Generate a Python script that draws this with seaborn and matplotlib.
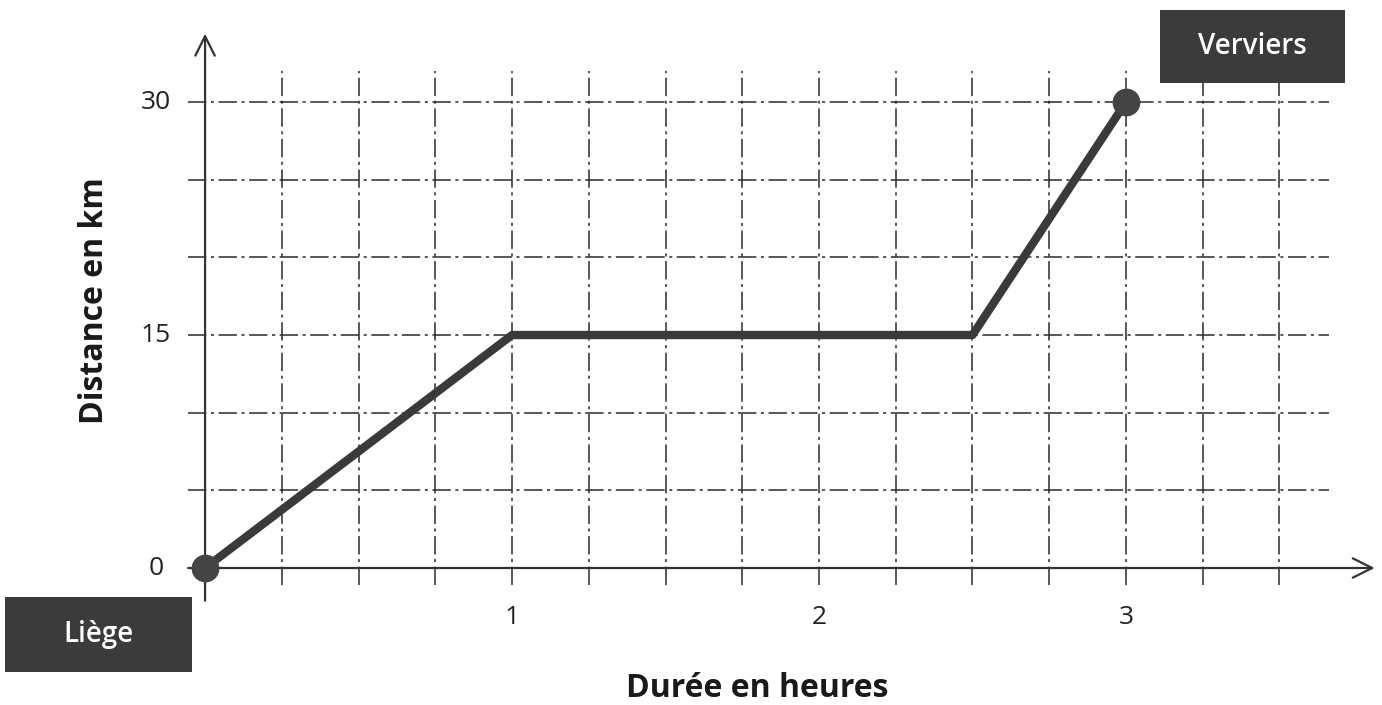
import numpy as np
import matplotlib
matplotlib.use('Agg')
import matplotlib.pyplot as plt
import seaborn as sns
from matplotlib.patches import Rectangle

# Trajet Liège -> Verviers
hours = [0, 1, 2.5, 3]
distance_km = [0, 15, 15, 30]
x_ticks = [1, 2, 3]
y_ticks = [0, 15, 30]
start_label = 'Liège'
end_label = 'Verviers'

sns.set_style('white')
plt.rcParams['font.family'] = ['Open Sans', 'DejaVu Sans']

fig = plt.figure(figsize=(13.82, 7.05), dpi=100)
ax = fig.add_axes([0, 0, 1, 1])
ax.set_xlim(-0.668, 3.834)
ax.set_ylim(-8.82, 36.57)
ax.axis('off')

# dash-dot grid, every quarter hour and every 5 km
grid_style = dict(color='#2a2a2a', lw=1.1, linestyle=(0, (12, 3, 2, 3)), zorder=1)
ax.vlines(np.arange(0.25, 3.75, 0.25), -1.1, 32.0, **grid_style)
ax.hlines(np.arange(5, 31, 5), -0.055, 3.66, **grid_style)

# axes with arrows
arrow = dict(arrowstyle='->', color='#333333', lw=1.6, mutation_scale=35,
             shrinkA=0, shrinkB=0)
ax.annotate('', xy=(3.81, 0), xytext=(-0.055, 0), arrowprops=arrow, zorder=2)
ax.annotate('', xy=(0, 34.4), xytext=(0, -2.1), arrowprops=arrow, zorder=2)

# the route
sns.lineplot(x=hours, y=distance_km, sort=False, color='#3a3a3a', lw=6,
             ax=ax, zorder=3)
sns.scatterplot(x=[hours[0], hours[-1]], y=[distance_km[0], distance_km[-1]],
                s=400, color='#444444', linewidth=0, ax=ax, zorder=4)

# tick labels
for t in x_ticks:
    ax.text(t, -3.2, str(t), ha='center', va='center', fontsize=19, color='#222222')
for t in y_ticks:
    ax.text(-0.16, t, str(t), ha='center', va='center', fontsize=19, color='#222222')

# axis titles
ax.text(-0.36, 17.2, 'Distance en km', rotation=90, ha='center', va='center',
        fontsize=23, fontweight='bold', color='#1a1a1a')
ax.text(1.8, -7.75, 'Durée en heures', ha='center', va='center',
        fontsize=23, fontweight='bold', color='#1a1a1a')

# town boxes
box = dict(facecolor='#3b3b3b', edgecolor='none', zorder=5)
ax.add_patch(Rectangle((-0.651, -6.70), 0.609, 4.83, **box))
ax.text(-0.3465, -4.3, start_label, ha='center', va='center', fontsize=20,
        fontweight='semibold', color='white', zorder=6)
ax.add_patch(Rectangle((3.111, 31.23), 0.602, 4.70, **box))
ax.text(3.412, 33.6, end_label, ha='center', va='center', fontsize=20,
        fontweight='semibold', color='white', zorder=6)

fig.savefig('out.png', dpi=100)
